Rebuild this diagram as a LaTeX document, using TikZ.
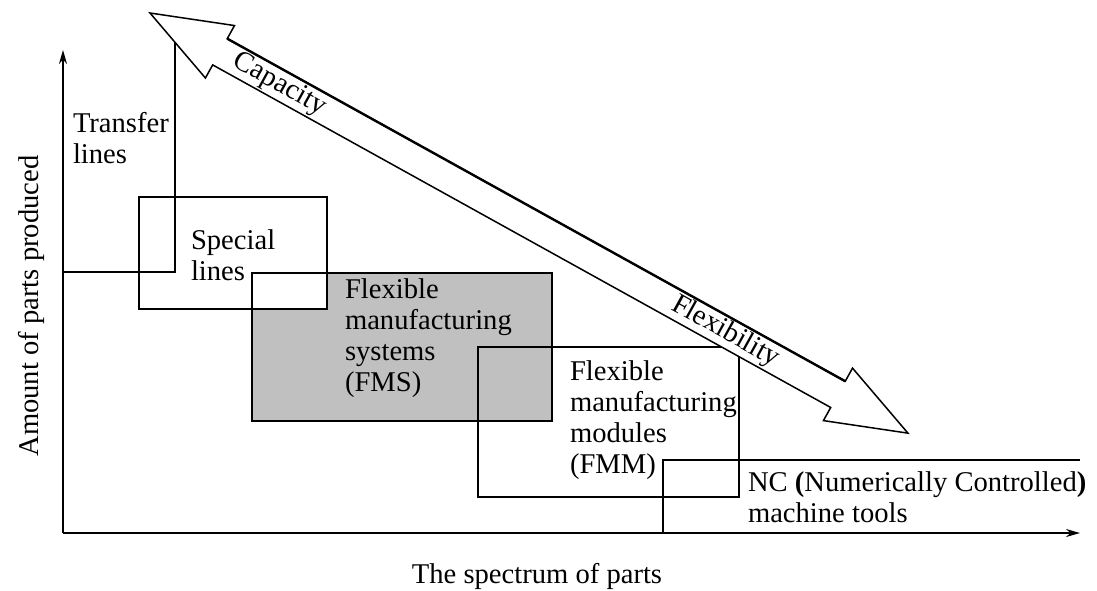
\documentclass[tikz,border=0pt]{standalone}
\usepackage{fontspec}
\setmainfont{Liberation Serif}
\usetikzlibrary{arrows.meta}
\definecolor{fmsgray}{RGB}{192,192,192}
\begin{document}
\begin{tikzpicture}[x=1pt,y=-1pt,
  every node/.style={font=\fontsize{28.6}{31}\selectfont, inner sep=0pt, outer sep=0pt},
  frame/.style={line width=1.8pt, line join=miter},
  box/.style={rectangle, anchor=north west, line width=1.8pt},
  lbl/.style={anchor=base west, align=left},
  axis/.style={line width=1.8pt, -{Stealth[length=14pt,width=8pt]}},
  bigarrow/.style={draw, fill=white, line width=1.5pt, line join=miter},
]
\useasboundingbox (0,0) rectangle (1097,590);

% fills
\node[box, fill=fmsgray, minimum width=300pt, minimum height=148pt] (fms) at (252,273) {};
\node[box, fill=white, draw, minimum width=188pt, minimum height=112pt] (special) at (139,197) {};
\draw[frame] (fms.north west) rectangle (fms.south east);
\node[box, draw, minimum width=261pt, minimum height=150pt] (fmm) at (478,347) {};

% transfer line
\coordinate (t0) at (63,272);
\coordinate (t1) at (175,272);
\coordinate (t2) at (175,35);
\draw[frame] (t0) -- (t1) -- (t2);

% NC outline
\coordinate (nc0) at (663,533);
\coordinate (nc1) at (663,460);
\coordinate (nc2) at (1080,460);
\draw[frame] (nc0) -- (nc1) -- (nc2);

% axes
\coordinate (O) at (63,533);
\coordinate (Ytop) at (63,50);
\coordinate (Xend) at (1080,533);
\draw[axis] (O) -- (Ytop);
\draw[axis] (O) -- (Xend);

% double arrow
\begin{scope}[shift={(150,13)}, rotate=-29]
  \draw[bigarrow] (0,0) -- (80,-30) -- (80,-15) -- (786.6,-15) -- (786.6,-30)
     -- (866.6,0) -- (786.6,30) -- (786.6,15) -- (80,15) -- (80,30) -- cycle;
  \draw[line width=2.4pt] (80,-15) -- (786.6,-15);
  \node[rotate=-29] (cap) at (148,0) {Capacity};
  \node[rotate=-29] (flex) at (658,0) {Flexibility};
\end{scope}

% labels (base = baseline of the last line)
\node[lbl] (ltransfer) at (73,163) {Transfer\\lines};
\node[lbl] (lspecial) at (191,280) {Special\\lines};
\node[lbl] (lfms) at (345,391) {Flexible\\manufacturing\\systems\\(FMS)};
\node[lbl] (lfmm) at (570,473) {Flexible\\manufacturing\\modules\\(FMM)};
\node[lbl] (lnc) at (748,522) {NC \textbf{(}Numerically Controlled\textbf{)}\\machine tools};
\node[anchor=base] (xlab) at (537,583) {The spectrum of parts};
\node[anchor=base, rotate=90] (ylab) at (38,306) {Amount of parts produced};
\end{tikzpicture}
\end{document}
